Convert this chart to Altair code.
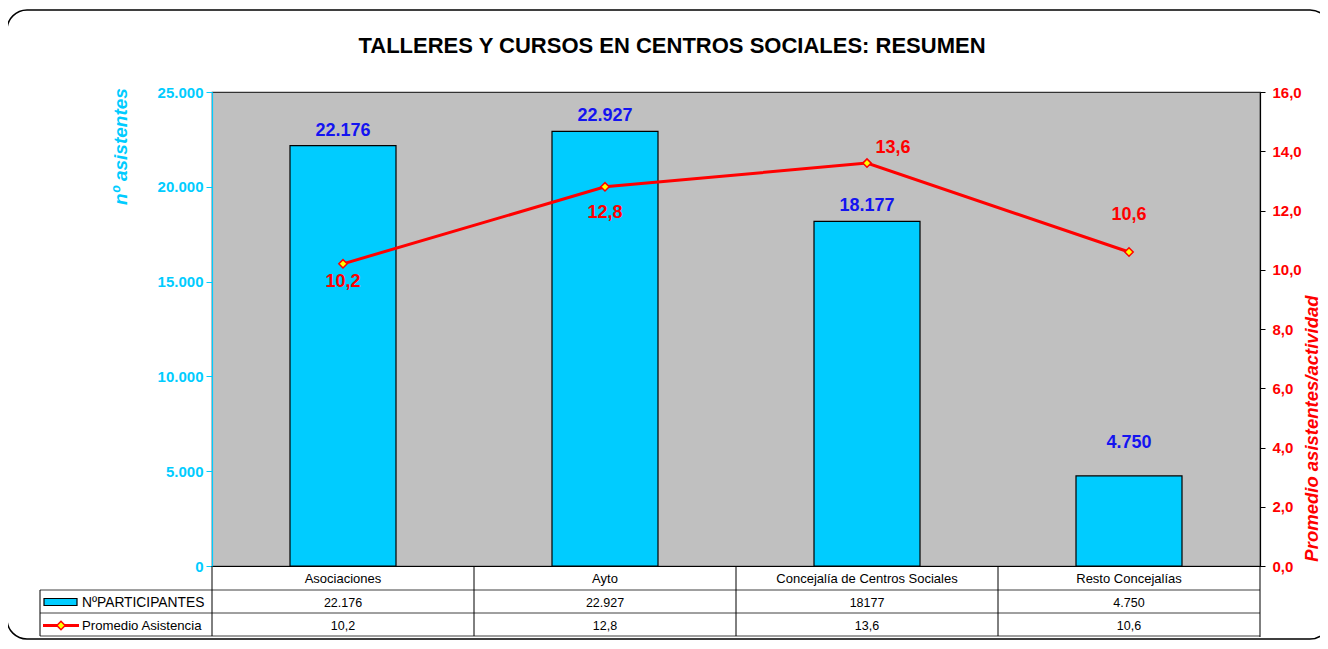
import altair as alt
import pandas as pd

# ---------------- data ----------------
categories = ["Asociaciones", "Ayto", "Concejalía de Centros Sociales", "Resto Concejalías"]
participants = [22176, 22927, 18177, 4750]
average = [10.2, 12.8, 13.6, 10.6]
table_participants = ["22.176", "22.927", "18177", "4.750"]
table_average = ["10,2", "12,8", "13,6", "10,6"]
left_ticks = [0, 5000, 10000, 15000, 20000, 25000]
right_ticks = [0, 2, 4, 6, 8, 10, 12, 14, 16]
title_text = "TALLERES Y CURSOS EN CENTROS SOCIALES: RESUMEN"
left_title = "nº asistentes"
right_title = "Promedio asistentes/actividad"
legend_labels = ["NºPARTICIPANTES", "Promedio Asistencia"]

# ---------------- styling ----------------
W, H = 1048, 474
FONT = "Liberation Sans"
CYAN = "#00CCFF"
RED = "#FF0000"
BLUE = "#1414F0"
GRID = "#404040"

df = pd.DataFrame({
    "cat": categories,
    "v": participants,
    "p": average,
    "tp": table_participants,
    "ta": table_average,
})
one = pd.DataFrame({"t": [title_text]})

xenc = alt.X(
    "cat:N", sort=categories,
    scale=alt.Scale(paddingInner=0, paddingOuter=0),
    axis=alt.Axis(title=None, labelAngle=0, ticks=False, labelPadding=6,
                  labelFontSize=13, labelColor="black", labelFont=FONT, labelLimit=400,
                  domainColor="black", domainWidth=1.2),
)

yleft = alt.Y(
    "v:Q",
    scale=alt.Scale(domain=[0, 25000], nice=False, zero=True),
    axis=alt.Axis(
        orient="left", values=left_ticks, grid=False,
        labelExpr="replace(format(datum.value, ','), ',', '.')",
        labelColor=CYAN, labelFontSize=15, labelFontWeight="bold", labelFont=FONT,
        labelPadding=3, tickColor=CYAN, tickSize=6, domainColor=CYAN, domainWidth=1.2,
        title=left_title, titleColor=CYAN, titleFontSize=19, titleFontStyle="italic",
        titleFontWeight="bold", titleFont=FONT, titleAngle=270, titleX=-92, titleY=54,
        titleAlign="center", titleBaseline="middle",
    ),
)

yright = alt.Y(
    "p:Q",
    scale=alt.Scale(domain=[0, 16], nice=False, zero=True),
    axis=alt.Axis(
        orient="right", values=right_ticks, grid=False,
        labelExpr="replace(format(datum.value, '.1f'), '.', ',')",
        labelColor=RED, labelFontSize=15, labelFontWeight="bold", labelFont=FONT,
        labelPadding=7, tickColor="black", tickSize=5, domainColor="black", domainWidth=1.2,
        title=right_title, titleColor=RED, titleFontSize=18.5, titleFontStyle="italic",
        titleFontWeight="bold", titleFont=FONT, titleAngle=270, titleX=51, titleY=336,
        titleAlign="center", titleBaseline="middle",
    ),
)

base = alt.Chart(df)

bars = base.mark_bar(size=106, color=CYAN, stroke="black", strokeWidth=1.2).encode(x=xenc, y=yleft)

bar_lab_common = dict(fontSize=18, fontWeight="bold", color=BLUE, font=FONT, baseline="middle")
bar_labels_a = base.transform_filter(alt.datum.cat != "Resto Concejalías").transform_calculate(
    lab="replace(format(datum.v, ','), ',', '.')"
).mark_text(dy=-15, **bar_lab_common).encode(x=xenc, y=yleft, text="lab:N")
bar_labels_b = base.transform_filter(alt.datum.cat == "Resto Concejalías").transform_calculate(
    lab="replace(format(datum.v, ','), ',', '.')"
).mark_text(dy=-33, **bar_lab_common).encode(x=xenc, y=yleft, text="lab:N")

left_group = alt.layer(bars, bar_labels_a, bar_labels_b)

line = base.mark_line(color=RED, strokeWidth=3).encode(x=xenc, y=yright)
points = base.mark_point(shape="diamond", filled=True, fill="#FFFF00", stroke=RED,
                         strokeWidth=1.5, size=70, opacity=1).encode(x=xenc, y=yright)

line_lab_common = dict(fontSize=18, fontWeight="bold", color=RED, font=FONT, baseline="middle")
offsets = {
    "Asociaciones": (0, 18),
    "Ayto": (0, 26),
    "Concejalía de Centros Sociales": (26, -15),
    "Resto Concejalías": (0, -37),
}
line_labels = []
for c in categories:
    dx, dy = offsets[c]
    line_labels.append(
        base.transform_filter(alt.datum.cat == c).transform_calculate(
            lab="replace(format(datum.p, '.1f'), '.', ',')"
        ).mark_text(dx=dx, dy=dy, **line_lab_common).encode(x=xenc, y=yright, text="lab:N")
    )

right_group = alt.layer(line, points, *line_labels)

# ---------------- decorations (title, data table, frame) ----------------
def hrule(x1, x2, y, color=GRID, w=1):
    return alt.Chart(one).mark_rule(color=color, strokeWidth=w).encode(
        x=alt.value(x1), x2=alt.value(x2), y=alt.value(y))

def vrule(x, y1, y2, color="black", w=1):
    return alt.Chart(one).mark_rule(color=color, strokeWidth=w).encode(
        x=alt.value(x), y=alt.value(y1), y2=alt.value(y2))

band = W / len(categories)
R1, R2, R3 = H + 24, H + 47, H + 70
TL = -172

deco = [
    hrule(TL, W, R1), hrule(TL, W, R2), hrule(TL, W, R3),
    vrule(TL, R1, R3), vrule(0, H, R3),
]
for i in range(1, len(categories)):
    deco.append(vrule(band * i, H, R3))
deco.append(vrule(W, H, R3 + 1))

row2 = base.mark_text(fontSize=12.5, font=FONT, color="black", baseline="middle").encode(
    x=xenc, y=alt.value((R1 + R2) / 2 + 1), text="tp:N")
row3 = base.mark_text(fontSize=12.5, font=FONT, color="black", baseline="middle").encode(
    x=xenc, y=alt.value((R2 + R3) / 2 + 1), text="ta:N")

leg_df1 = pd.DataFrame({"t": [legend_labels[0]]})
leg_df2 = pd.DataFrame({"t": [legend_labels[1]]})
leg_text1 = alt.Chart(leg_df1).mark_text(fontSize=13.8, font=FONT, align="left", baseline="middle",
                                         color="black").encode(
    x=alt.value(-130), y=alt.value((R1 + R2) / 2 + 1), text="t:N")
leg_text2 = alt.Chart(leg_df2).mark_text(fontSize=13.2, font=FONT, align="left", baseline="middle",
                                         color="black").encode(
    x=alt.value(-130), y=alt.value((R2 + R3) / 2 + 1), text="t:N")
leg_rect = alt.Chart(one).mark_rect(fill=CYAN, stroke="black", strokeWidth=1.2).encode(
    x=alt.value(-168), x2=alt.value(-135), y=alt.value((R1 + R2) / 2 - 3), y2=alt.value((R1 + R2) / 2 + 4))
leg_line = alt.Chart(one).mark_rule(color=RED, strokeWidth=3).encode(
    x=alt.value(-169), x2=alt.value(-133), y=alt.value((R2 + R3) / 2 + 1))
leg_pt = alt.Chart(one).mark_point(shape="diamond", filled=True, fill="#FFFF00", stroke=RED,
                                   strokeWidth=1.5, size=70, opacity=1).encode(
    x=alt.value(-151), y=alt.value((R2 + R3) / 2 + 1))

title = alt.Chart(one).mark_text(fontSize=22, fontWeight="bold", font=FONT, color="black",
                                 align="center", baseline="middle").encode(
    x=alt.value(460), y=alt.value(-46), text="t:N")

frame = alt.Chart(one).mark_rect(cornerRadius=20, fill="white", fillOpacity=0,
                                 stroke="black", strokeWidth=1.5).encode(
    x=alt.value(-205), x2=alt.value(1118), y=alt.value(-82), y2=alt.value(547))

chart = alt.layer(
    frame, left_group, right_group, *deco, row2, row3,
    leg_text1, leg_text2, leg_rect, leg_line, leg_pt, title,
).resolve_scale(y="independent").properties(
    width=W, height=H,
    autosize=alt.AutoSizeParams(type="none"),
    padding={"left": 204, "top": 84, "right": 60, "bottom": 75},
    background="white",
).configure(font=FONT).configure_view(fill="#C0C0C0", stroke="#333333", strokeWidth=1.2)

chart.save("out.html", embed_options={"renderer": "svg", "actions": False})
